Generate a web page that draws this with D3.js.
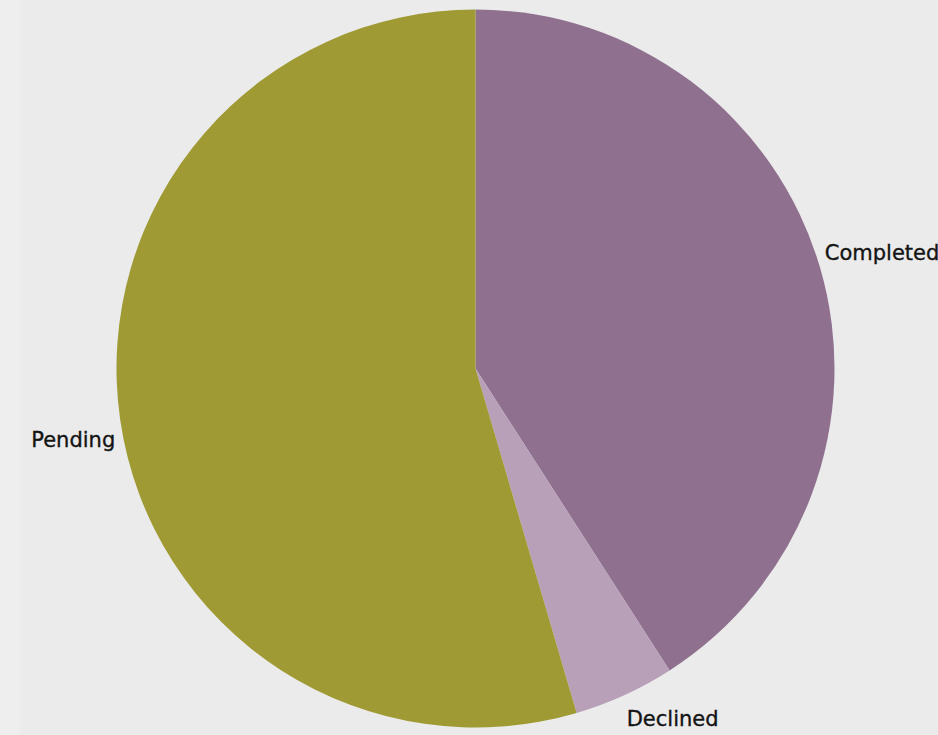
<!DOCTYPE html>
<html>
<head>
<meta charset="utf-8">
<script src="https://cdn.jsdelivr.net/npm/d3@7/dist/d3.min.js"></script>
<style>
  html, body { margin: 0; padding: 0; background: #ebebeb; }
  svg { display: block; }
</style>
</head>
<body>
<svg id="chart" width="938" height="735"></svg>
<script>
// Request status counts
const categories = ["Completed", "Declined", "Pending"];
const counts = [9, 1, 12];
const colors = ["#8f718f", "#b8a0b9", "#9f9a33"];

const width = 938, height = 735;
const cx = 475.5, cy = 368.5, radius = 359;
const labelRadius = 364;

const svg = d3.select("#chart");

// faint lighter strip along the left edge
svg.append("rect").attr("x", 0).attr("y", 0).attr("width", 20).attr("height", height).attr("fill", "#eeeeee");
svg.append("rect").attr("x", 20).attr("y", 0).attr("width", width - 20).attr("height", height).attr("fill", "#ebebeb");

const data = categories.map((c, i) => ({ name: c, value: counts[i], color: colors[i] }));

const pie = d3.pie().sort(null).value(d => d.value);
const arcs = pie(data);
const arc = d3.arc().innerRadius(0).outerRadius(radius);

const g = svg.append("g").attr("transform", `translate(${cx},${cy})`);

g.selectAll("path.slice")
  .data(arcs)
  .join("path")
  .attr("class", "slice")
  .attr("d", arc)
  .attr("fill", d => d.data.color);

// labels placed just outside the rim at each slice's mid-angle
g.selectAll("text.label")
  .data(arcs)
  .join("text")
  .attr("class", "label")
  .each(function (d) {
    const a = (d.startAngle + d.endAngle) / 2;
    const x = labelRadius * Math.sin(a);
    const y = -labelRadius * Math.cos(a);
    const upper = Math.cos(a) > 0;
    d3.select(this)
      .attr("x", x)
      .attr("y", y + (upper ? -13 : 19))
      .attr("dy", "0.35em")
      .attr("text-anchor", Math.sin(a) >= 0 ? "start" : "end");
  })
  .attr("font-family", "DejaVu Sans, sans-serif")
  .attr("font-size", 21)
  .attr("fill", "#141414")
  .attr("stroke", "#141414")
  .attr("stroke-width", 0.35)
  .text(d => d.data.name);
</script>
</body>
</html>
